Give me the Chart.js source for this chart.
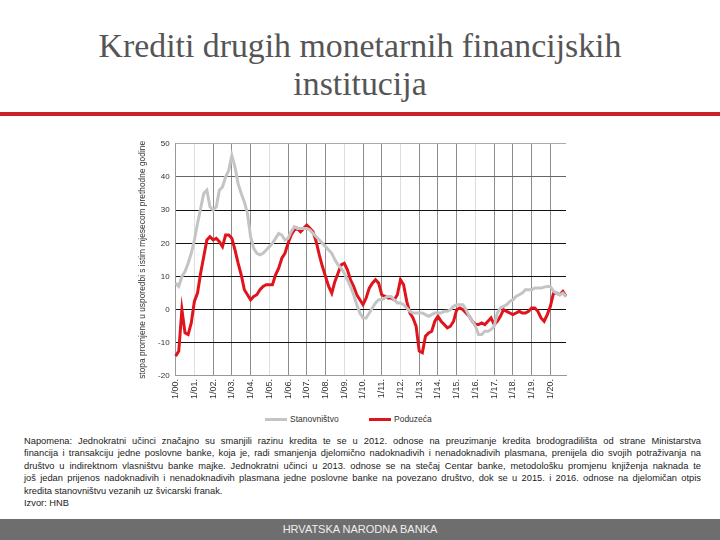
<!DOCTYPE html>
<html>
<head>
<meta charset="utf-8">
<script src="https://cdn.jsdelivr.net/npm/chart.js@4/dist/chart.umd.min.js"></script>
<style>
  html, body { margin: 0; padding: 0; background: #fff; }
  body { width: 720px; height: 540px; position: relative; overflow: hidden; }
  #title {
    position: absolute; left: 0; top: 27px; width: 720px; text-align: center;
    font-family: "Liberation Serif", "DejaVu Serif", serif; font-size: 33.8px;
    line-height: 38px; color: #555;
  }
  #rule { position: absolute; left: 0; top: 112px; width: 720px; height: 4px; background: #c9202b; }
  #chartBox { position: absolute; left: 122px; top: 133px; width: 468px; height: 269px; }
  #legend {
    position: absolute; left: 0; top: 413px; width: 720px; height: 12px;
    font-family: "Liberation Sans", sans-serif; font-size: 8.5px; color: #333;
  }
  .item { position: absolute; top: 0; line-height: 12px; white-space: nowrap; }
  .swatch { display: inline-block; width: 22px; height: 3px; vertical-align: middle; margin-right: 3px; }
  #note {
    position: absolute; left: 24px; top: 435px; width: 677px;
    font-family: "Liberation Sans", sans-serif;
    font-size: 9.3px; line-height: 12.4px; color: #222;
  }
  #note .full { text-align: justify; text-align-last: justify; white-space: nowrap; }
  #footer {
    position: absolute; left: 0; top: 519px; width: 720px; height: 21px;
    background: #6e6e6e; color: #eee; text-align: center;
    font-family: "Liberation Sans", sans-serif; font-size: 11px; line-height: 21px;
  }
</style>
</head>
<body>
<div id="title">Krediti drugih monetarnih financijskih<br>institucija</div>
<div id="rule"></div>
<div id="chartBox"><canvas id="kreditiChart"></canvas></div>
<div id="legend"></div>
<div id="note">
<div class="full">Napomena: Jednokratni učinci značajno su smanjili razinu kredita te se u 2012. odnose na preuzimanje kredita brodogradilišta od strane Ministarstva</div>
<div class="full">financija i transakciju jedne poslovne banke, koja je, radi smanjenja djelomično nadoknadivih i nenadoknadivih plasmana, prenijela dio svojih potraživanja na</div>
<div class="full">društvo u indirektnom vlasništvu banke majke. Jednokratni učinci u 2013. odnose se na stečaj Centar banke, metodološku promjenu knjiženja naknada te</div>
<div class="full">još jedan prijenos nadoknadivih i nenadoknadivih plasmana jedne poslovne banke na povezano društvo, dok se u 2015. i 2016. odnose na djelomičan otpis</div>
<div>kredita stanovništvu vezanih uz švicarski franak.</div>
<div>Izvor: HNB</div>
</div>
<div id="footer">HRVATSKA NARODNA BANKA</div>

<script>
// tick labels on the x axis, one per year (January)
const yearTicks = ['1/00.', '1/01.', '1/02.', '1/03.', '1/04.', '1/05.', '1/06.', '1/07.', '1/08.', '1/09.', '1/10.',
    '1/11.', '1/12.', '1/13.', '1/14.', '1/15.', '1/16.', '1/17.', '1/18.', '1/19.', '1/20.'];
// the data is read every second month: 1, 3, 5, 7, 9, 11
const monthsInPeriod = ['1', '3', '5', '7', '9', '11'];

// Stanovništvo (households), % change vs. same month previous year
const stanovnistvo = [
    8, 7, 10, 11.5, 14, 17,
    21, 26, 30.5, 35, 36, 31,
    30, 31, 36, 37, 40, 42,
    46.5, 43, 38, 35, 32.5, 29,
    22, 18.5, 17, 16.5, 17, 18,
    19, 20, 21.5, 23, 22.5, 21,
    21.5, 23.5, 25, 24.5, 24.5, 24.5,
    24.5, 24, 23, 22, 21, 20,
    19, 18, 17, 15, 13.5, 12.5,
    11, 9, 7, 4.5, 1.5, -1,
    -2.5, -2.5, -1, 0.5, 2, 3,
    3, 3.5, 4, 4, 3, 2,
    2, 1.5, 0.5, -0.5, -1, -1,
    -1, -1, -1.5, -2, -1.5, -1,
    -1, -1, -0.5, -0.5, 0, 1,
    1.5, 1.5, 1.5, 0, -2, -3.5,
    -5, -7.5, -7.5, -6.5, -6.5, -6,
    -5, -1, 0.5, 1, 1.5, 2.5,
    3, 4, 4.5, 5, 6, 6,
    6, 6.5, 6.5, 6.5, 6.8, 7,
    7, 5.5, 5, 4.5, 5, 4
];

// Poduzeća (corporates)
const poduzeca = [
    -14, -12.5, 0, -7, -7.5, -4,
    2.5, 5, 11, 16, 21, 22,
    21, 21.5, 20.5, 19, 22.5, 22.5,
    21.5, 18, 14, 10.5, 6, 4.5,
    3, 4, 4.5, 6, 7, 7.5,
    7.5, 7.5, 10.5, 12.5, 15.5, 17,
    20, 22.5, 24, 24.5, 23.5, 24.5,
    25.5, 24.5, 23.5, 20.5, 16.5, 13,
    10, 7, 5, 8.5, 11, 13.5,
    14, 12, 9, 7, 4.5, 3,
    1.5, 3.5, 6.5, 8, 9, 8,
    4.5, 4, 3.5, 3.5, 3, 4.5,
    9, 7.5, 2.5, -1, -2.5, -5,
    -12.5, -13, -8, -7, -6.5, -3.5,
    -2, -3.5, -4.5, -5.5, -5, -3.5,
    0, 0.5, 0, -1, -2, -3.5,
    -4.5, -4.5, -4, -4.5, -3.5, -2.5,
    -4.5, -3.5, -2, 0, -0.5, -1,
    -1.5, -1, -0.5, -1, -1, -0.5,
    0.5, 0.5, -0.5, -2.5, -3.5, -1.5,
    1, 5, 5, 4.5, 5.5, 4
];

const periods = [];
for (let y = 0; y < yearTicks.length; y++) {
    for (let m = 0; m < monthsInPeriod.length; m++) {
        if (periods.length < poduzeca.length) {
            periods.push(monthsInPeriod[m] + '/' + yearTicks[y].slice(2));
        }
    }
}

// some year lines came out very faint in the original
const faintYears = [1, 5, 9, 12, 16];

const ctx = document.getElementById('kreditiChart').getContext('2d');
const kreditiChart = new Chart(ctx, {
    type: 'line',
    data: {
        labels: periods,
        datasets: [{
            label: 'Stanovništvo',
            data: stanovnistvo,
            borderColor: '#c4c4c4',
            backgroundColor: '#c4c4c4',
            borderWidth: 3,
            pointRadius: 0,
            tension: 0
        }, {
            label: 'Poduzeća',
            data: poduzeca,
            borderColor: '#e0141c',
            backgroundColor: '#e0141c',
            borderWidth: 3,
            pointRadius: 0,
            tension: 0
        }]
    },
    options: {
        responsive: true,
        maintainAspectRatio: false,
        animation: false,
        layout: { padding: { left: 16, right: 24, top: 4, bottom: 0 } },
        scales: {
            x: {
                afterBuildTicks: function (scale) {
                    scale.ticks = scale.ticks.filter(t => t.value % 6 === 0);
                },
                ticks: {
                    autoSkip: false,
                    minRotation: 90,
                    maxRotation: 90,
                    padding: 3,
                    color: '#333',
                    font: { family: 'Liberation Sans', size: 9 },
                    callback: function (value) {
                        return yearTicks[value / 6];
                    }
                },
                grid: {
                    drawTicks: false,
                    color: function (c) {
                        const yr = c.tick ? c.tick.value / 6 : 0;
                        if (yr === 0) return '#999';
                        return faintYears.includes(yr) ? '#dedede' : '#8c8c8c';
                    },
                    lineWidth: 1
                },
                border: { display: true, color: '#999' }
            },
            y: {
                min: -20,
                max: 50,
                ticks: {
                    stepSize: 10,
                    padding: 6,
                    color: '#333',
                    font: { family: 'Liberation Sans', size: 8 }
                },
                grid: {
                    drawTicks: false,
                    color: function (c) {
                        if (c.tick.value === 50) return '#aaa';
                        if (c.tick.value === 40) return '#666';
                        if (c.tick.value === -20) return '#999';
                        return '#111';
                    },
                    lineWidth: 1
                },
                border: { display: true, color: '#999' },
                title: {
                    display: true,
                    text: 'stopa promjene u usporedbi s istim mjesecom prethodne godine',
                    color: '#333',
                    padding: { top: 0, bottom: 4 },
                    font: { family: 'Liberation Sans', size: 8.4 }
                }
            }
        },
        plugins: {
            legend: { display: false },
            tooltip: { enabled: false }
        }
    }
});

// legend below the chart, built from the datasets
const legendBox = document.getElementById('legend');
const legendLeft = [265, 369];
kreditiChart.data.datasets.forEach(function (ds, i) {
    const item = document.createElement('div');
    item.className = 'item';
    item.style.left = legendLeft[i] + 'px';
    item.innerHTML = '<span class="swatch" style="background:' + ds.borderColor + '"></span>' + ds.label;
    legendBox.appendChild(item);
});
</script>
</body>
</html>
